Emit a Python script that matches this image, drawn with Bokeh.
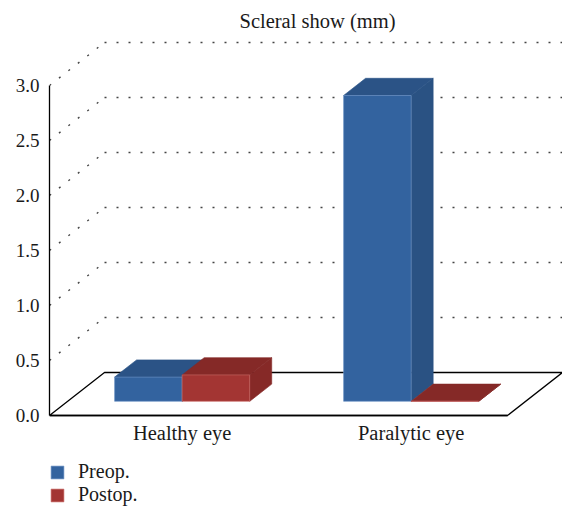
from bokeh.plotting import figure
from bokeh.models import Range1d, FixedTicker, PrintfTickFormatter, Legend, LegendItem, ColumnDataSource
from bokeh.embed import file_html
from bokeh.resources import INLINE

# ---- data ----
title_text = "Scleral show (mm)"
categories = ["Healthy eye", "Paralytic eye"]
series_names = ["Preop.", "Postop."]
preop = [0.22, 2.78]
postop = [0.24, 0.0]
y_ticks = [0.0, 0.5, 1.0, 1.5, 2.0, 2.5, 3.0]

# ---- style / geometry ----
FONT = "Liberation Serif"
W, H = 562, 510
LEFT, TOP = 49, 38
Y0_PX = 415           # pixel row of value 0 on the front plane
PX_X = 229.0          # pixels per category unit
PX_Y = 110.0          # pixels per value unit
DX = 55.0 / PX_X      # depth offset (x units) for the full floor depth
DY = 43.0 / PX_Y      # depth offset (y units)
BAR_W = 0.295
D0, D1 = 0.33, 0.73
colors = {
    "Preop.": {"front": "#33639f", "top": "#2b5386", "side": "#2a5283", "edge": "#6d93c4"},
    "Postop.": {"front": "#a33533", "top": "#852927", "side": "#862927", "edge": "#c96a66"},
}

def P(x, y, d):
    return x + d * DX, y + d * DY

def poly(pts):
    return [q[0] for q in pts], [q[1] for q in pts]

n = len(categories)
p = figure(width=W, height=H, output_backend="svg", toolbar_location=None,
           x_range=Range1d(0, (W - LEFT) / PX_X),
           y_range=Range1d(-(H - Y0_PX) / PX_Y, (Y0_PX - TOP) / PX_Y),
           min_border_left=LEFT, min_border_right=0, min_border_top=TOP, min_border_bottom=0)
p.outline_line_color = None
p.xgrid.visible = False
p.ygrid.visible = False
p.background_fill_color = "white"

p.title.text = title_text
p.title.align = "left"
p.title.offset = 190
p.title.text_font = FONT
p.title.text_font_size = "20.5px"
p.title.text_font_style = "normal"
p.title.text_color = "#1a1a1a"
p.title.standoff = 13

# floor
fx, fy = poly([P(0, 0, 0), P(n, 0, 0), P(n, 0, 1), P(0, 0, 1)])
p.patch(fx, fy, fill_color="white", line_color="black", line_width=1.3)

# dotted grid on back wall and left wall
for v in y_ticks[1:]:
    bx, by = poly([P(0, v, 1), P(n + 1, v, 1)])
    p.line(bx, by, line_color="#444444", line_width=1.4, line_dash="2 10")
    lx, ly = poly([P(0, v, 0), P(0, v, 1)])
    p.line(lx, ly, line_color="#444444", line_width=1.4, line_dash="2 10")

# bars
series_vals = {"Preop.": preop, "Postop.": postop}
front_renderers = {}
for j, name in enumerate(series_names):
    vals = series_vals[name]
    faces = {"front": ([], []), "top": ([], []), "side": ([], [])}
    for i, v in enumerate(vals):
        x0 = i + 0.5 - BAR_W + j * BAR_W
        x1 = x0 + BAR_W
        for key, pts in (
            ("side", [P(x1, 0, D0), P(x1, 0, D1), P(x1, v, D1), P(x1, v, D0)]),
            ("top", [P(x0, v, D0), P(x1, v, D0), P(x1, v, D1), P(x0, v, D1)]),
            ("front", [P(x0, 0, D0), P(x1, 0, D0), P(x1, v, D0), P(x0, v, D0)]),
        ):
            xs, ys = poly(pts)
            faces[key][0].append(xs)
            faces[key][1].append(ys)
    c = colors[name]
    for key in ("side", "top", "front"):
        src = ColumnDataSource(dict(xs=faces[key][0], ys=faces[key][1]))
        r = p.patches("xs", "ys", source=src, fill_color=c[key],
                      line_color=c["edge"] if key == "front" else c[key],
                      line_width=0.8, line_alpha=0.8)
        if key == "front":
            front_renderers[name] = r

# axes
tick_pos = [i + 0.5 + D0 * DX for i in range(n)]
p.xaxis.ticker = FixedTicker(ticks=tick_pos)
p.xaxis.major_label_overrides = {t: c for t, c in zip(tick_pos, categories)}
p.xaxis.bounds = (0, n)
p.xaxis.fixed_location = 0
p.yaxis.ticker = FixedTicker(ticks=y_ticks)
p.yaxis.formatter = PrintfTickFormatter(format="%.1f")
p.yaxis.bounds = (0, y_ticks[-1])
for ax in (p.xaxis, p.yaxis):
    ax.axis_line_color = "black"
    ax.axis_line_width = 1.3
    ax.major_tick_out = 0
    ax.major_tick_in = 0
    ax.minor_tick_out = 0
    ax.minor_tick_in = 0
    ax.major_label_text_font = FONT
    ax.major_label_text_color = "#1a1a1a"
p.xaxis.major_label_text_font_size = "20.5px"
p.yaxis.major_label_text_font_size = "19px"
p.xaxis.major_label_standoff = 6
p.yaxis.major_label_standoff = 10

legend = Legend(items=[LegendItem(label=nm, renderers=[front_renderers[nm]]) for nm in series_names],
                location=(0, 4), orientation="vertical", margin=0, padding=0,
                glyph_width=16, glyph_height=16, label_height=16, spacing=0,
                label_standoff=13, border_line_color=None, background_fill_alpha=0,
                label_text_font=FONT, label_text_font_size="20px", label_text_color="#1a1a1a")
p.add_layout(legend)

open("out.html", "w").write(file_html(p, INLINE))
